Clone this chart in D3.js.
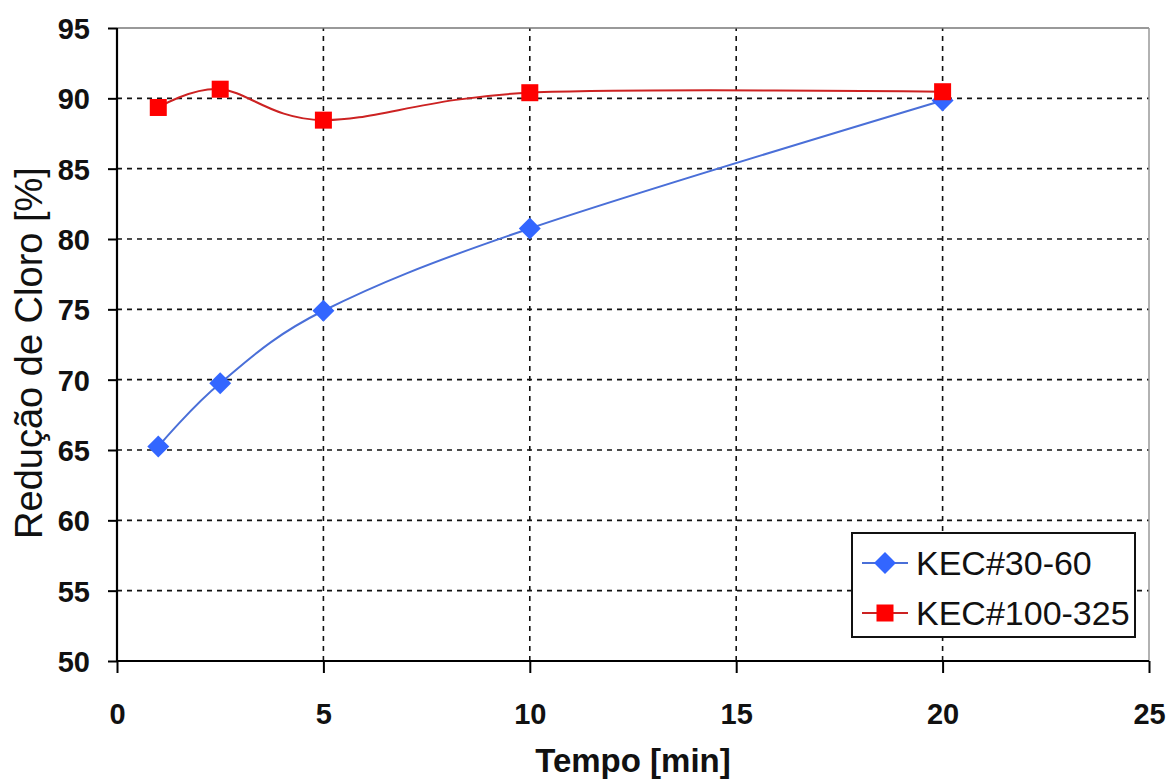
<!DOCTYPE html>
<html><head><meta charset="utf-8">
<script src="https://cdn.jsdelivr.net/npm/d3@7"></script>
<style>html,body{margin:0;padding:0;background:#fff;}svg{display:block;}</style>
</head><body>
<svg id="c" width="1169" height="780"></svg>
<script>
const times = [1, 2.5, 5, 10, 20];
const kec3060 = [65.25, 69.75, 74.9, 80.75, 89.85];
const kec100325 = [89.35, 90.65, 88.45, 90.4, 90.47];
const seriesNames = ["KEC#30-60", "KEC#100-325"];
const xTicks = [0, 5, 10, 15, 20, 25];
const yTicks = [50, 55, 60, 65, 70, 75, 80, 85, 90, 95];
const xTitle = "Tempo [min]";
const yTitle = "Redução de Cloro [%]";

const svg = d3.select("#c");
const L = 117, R = 1149, T = 28, B = 661;
const x = d3.scaleLinear().domain([0, 25]).range([L, R]);
const y = d3.scaleLinear().domain([50, 95]).range([B, T]);
const font = "'Liberation Sans', Arial, sans-serif";

// grid
const g = svg.append("g");
g.selectAll("line.hg").data(yTicks.filter(v => v > 50 && v < 95)).join("line")
  .attr("x1", L).attr("x2", R).attr("y1", d => y(d)).attr("y2", d => y(d))
  .attr("stroke", "#111").attr("stroke-width", 1.6).attr("stroke-dasharray", "5,5");
g.selectAll("line.vg").data(xTicks.filter(v => v > 0 && v < 25)).join("line")
  .attr("y1", B).attr("y2", T).attr("x1", d => x(d)).attr("x2", d => x(d))
  .attr("stroke", "#111").attr("stroke-width", 1.6).attr("stroke-dasharray", "5,5");

// frame top/right
svg.append("line").attr("x1", L).attr("x2", R).attr("y1", T).attr("y2", T).attr("stroke", "#777").attr("stroke-width", 1.5);
svg.append("line").attr("x1", R).attr("x2", R).attr("y1", T).attr("y2", B).attr("stroke", "#999").attr("stroke-width", 1.5);

// axes
const xAxis = svg.append("g").attr("transform", `translate(0,${B})`)
  .call(d3.axisBottom(x).tickValues(xTicks).tickSize(12).tickPadding(30).tickFormat(d3.format("d")));
const yAxis = svg.append("g").attr("transform", `translate(${L},0)`)
  .call(d3.axisLeft(y).tickValues(yTicks).tickSize(9).tickPadding(18).tickFormat(d3.format("d")));
[xAxis, yAxis].forEach(a => {
  a.select(".domain").attr("stroke", "#000").attr("stroke-width", 2.2);
  a.selectAll(".tick line").attr("stroke", "#000").attr("stroke-width", 2);
  a.selectAll("text").attr("font-family", font).attr("font-weight", "bold")
    .attr("font-size", 29).attr("fill", "#111");
});
xAxis.select(".domain").attr("d", `M${L},0H${R}`);
yAxis.select(".domain").attr("d", `M0,${B}V${T}`);
yAxis.selectAll("text").attr("dy", "0.36em");

// lines
const line = d3.line().x(d => x(d[0])).y(d => y(d[1])).curve(d3.curveCardinal.tension(0));
const d1 = times.map((t, i) => [t, kec3060[i]]);
const d2 = times.map((t, i) => [t, kec100325[i]]);
svg.append("path").attr("d", line(d1)).attr("fill", "none").attr("stroke", "#4a6fd8").attr("stroke-width", 2);
svg.append("path").attr("d", line(d2)).attr("fill", "none").attr("stroke", "#cc2222").attr("stroke-width", 2);

const diamond = d3.symbol().type(d3.symbolSquare).size(240);
svg.append("g").selectAll("path").data(d1).join("path")
  .attr("d", diamond).attr("fill", "#3366ff")
  .attr("transform", d => `translate(${x(d[0])},${y(d[1])}) rotate(45)`);
svg.append("g").selectAll("rect").data(d2).join("rect")
  .attr("x", d => x(d[0]) - 8.5).attr("y", d => y(d[1]) - 8.5)
  .attr("width", 17).attr("height", 17).attr("fill", "#ff0000");

// legend
const lg = svg.append("g");
lg.append("rect").attr("x", 852).attr("y", 533).attr("width", 283).attr("height", 104)
  .attr("fill", "#fff").attr("stroke", "#111").attr("stroke-width", 2);
const rows = [{name: seriesNames[0], col: "#4a6fd8", cy: 563, m: "d"}, {name: seriesNames[1], col: "#cc2222", cy: 613, m: "s"}];
rows.forEach(r => {
  lg.append("line").attr("x1", 862).attr("x2", 908).attr("y1", r.cy).attr("y2", r.cy).attr("stroke", r.col).attr("stroke-width", 2);
  if (r.m === "d") lg.append("path").attr("d", diamond).attr("fill", "#3366ff").attr("transform", `translate(885,${r.cy}) rotate(45)`);
  else lg.append("rect").attr("x", 885 - 8.5).attr("y", r.cy - 8.5).attr("width", 17).attr("height", 17).attr("fill", "#ff0000");
  lg.append("text").attr("x", 916).attr("y", r.cy).attr("dy", "0.36em").text(r.name)
    .attr("font-family", font).attr("font-size", 34).attr("fill", "#111");
});

// titles
svg.append("text").attr("x", (L + R) / 2).attr("y", 772).attr("text-anchor", "middle")
  .attr("font-family", font).attr("font-weight", "bold").attr("font-size", 33).attr("fill", "#111").text(xTitle);
svg.append("text").attr("transform", `translate(42,${353}) rotate(-90)`).attr("text-anchor", "middle")
  .attr("font-family", font).attr("font-size", 38).attr("fill", "#111").text(yTitle);
</script>
</body></html>
